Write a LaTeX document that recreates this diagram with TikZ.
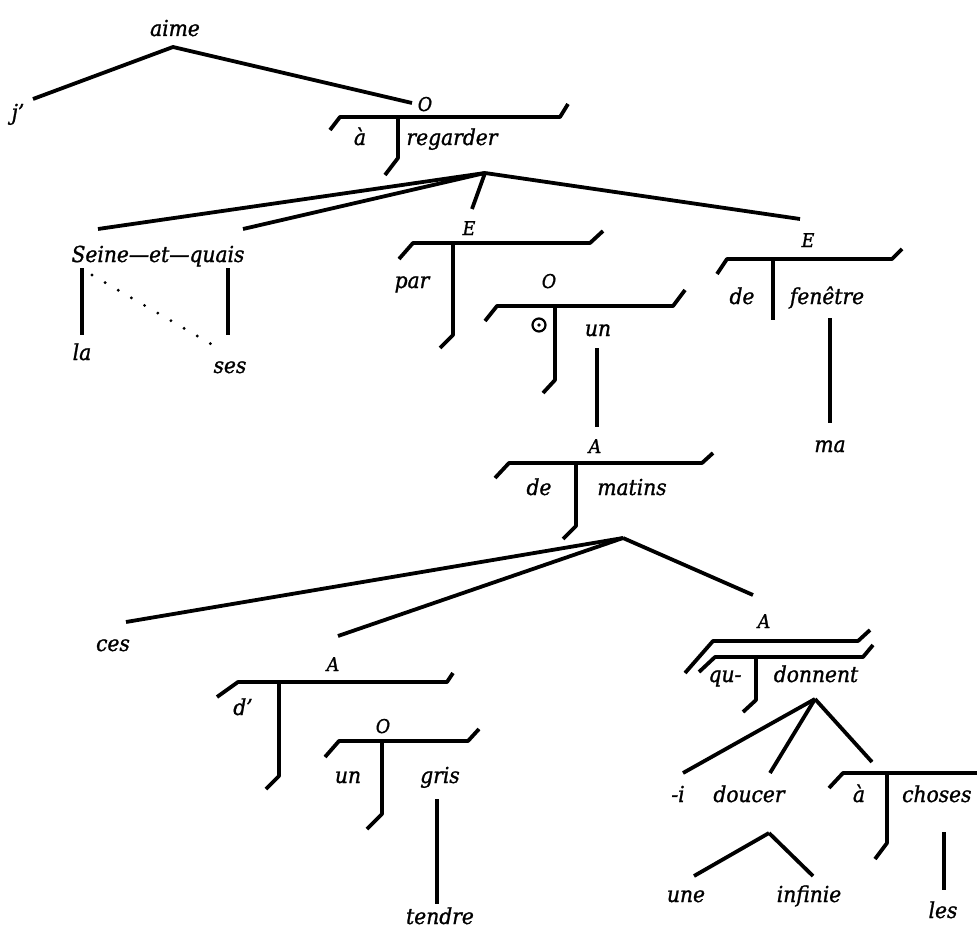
\documentclass[tikz,border=0pt]{standalone}
\usepackage{fontspec}
\setmainfont{DejaVu Serif}[FakeStretch=0.92, ItalicFeatures={FakeBold=1.2, FakeStretch=0.92}]
\tikzset{
  wd/.style={font=\fontsize{22}{26}\selectfont\itshape, inner sep=0pt, anchor=base},
  lab/.style={font=\fontsize{19}{22}\selectfont\itshape, inner sep=0pt, anchor=base},
  ln/.style={line width=3.8pt, line cap=butt, line join=round},
  brk/.style={line width=3.8pt, line cap=butt, line join=round},
  dots/.style={line width=3.2pt, line cap=round, dash pattern=on 0pt off 15.2pt},
  ringsym/.style={circle, draw, line width=2.2pt, minimum size=13pt, inner sep=0pt}
}
\begin{document}
\begin{tikzpicture}[x=1pt,y=-1pt]
\useasboundingbox (0,0) rectangle (977,931);
% ---------- text nodes ----------
\node[wd] (aime) at (175,36) {aime};
\node[wd] (j) at (18,120) {j'};
\node[lab] (O1) at (425,111) {O};
\node[wd] (a1) at (360,145) {à};
\node[wd] (regarder) at (452,145) {regarder};
\node[wd] (seine) at (158,262) {Seine—et—quais};
\node[wd] (la) at (82,360) {la};
\node[wd] (ses) at (230,373) {ses};
\node[lab] (E1) at (469,235) {E};
\node[wd] (par) at (412,288) {par};
\node[lab] (O2) at (549,288) {O};
\node[ringsym] (circ) at (539,325) {};
\fill (circ.center) circle (1.9pt);
\node[wd] (un1) at (598,336) {un};
\node[lab] (A1) at (595,453) {A};
\node[lab] (E2) at (808,247) {E};
\node[wd] (de1) at (742,304) {de};
\node[wd] (fenetre) at (827,304) {fenêtre};
\node[wd] (ma) at (830,452) {ma};
\node[wd] (de2) at (539,495) {de};
\node[wd] (matins) at (632,495) {matins};
\node[wd] (ces) at (113,651) {ces};
\node[lab] (A2) at (333,671) {A};
\node[wd] (d) at (243,715) {d'};
\node[lab] (O3) at (383,733) {O};
\node[wd] (un2) at (348,783) {un};
\node[wd] (gris) at (440,783) {gris};
\node[wd] (tendre) at (440,924) {tendre};
\node[lab] (A3) at (764,628) {A};
\node[wd] (qu) at (725,682) {qu-};
\node[wd] (donnent) at (816,682) {donnent};
\node[wd] (i) at (678,802) {-i};
\node[wd] (doucer) at (749,802) {doucer};
\node[wd] (a2) at (859,802) {à};
\node[wd, anchor=base west] (choses) at (902,802) {choses};
\node[wd] (une) at (686,902) {une};
\node[wd] (infinie) at (809,902) {infinie};
\node[wd] (les) at (943,918) {les};
% ---------- connector end points ----------
\coordinate (pAime) at (173,47);
\coordinate (pJ) at (33,99);
\coordinate (pO1) at (412,103);
\coordinate (pReg) at (485,173);
\coordinate (pSeine) at (98,229);
\coordinate (pQuais) at (243,229);
\coordinate (pE1) at (472,209);
\coordinate (pE2) at (800,219);
\coordinate (pLaT) at (82,268);
\coordinate (pLaB) at (82,335);
\coordinate (pQuT) at (228,268);
\coordinate (pQuB) at (228,335);
\coordinate (pDotA) at (92,275);
\coordinate (pDotB) at (218,348);
\coordinate (pUnT) at (597,348);
\coordinate (pUnB) at (597,427);
\coordinate (pFenT) at (830,318);
\coordinate (pFenB) at (830,423);
\coordinate (pMat) at (623,538);
\coordinate (pCes) at (126,622);
\coordinate (pA2) at (338,636);
\coordinate (pA3) at (753,595);
\coordinate (pGrisT) at (437,799);
\coordinate (pGrisB) at (437,904);
\coordinate (pDon) at (815,699);
\coordinate (pI) at (683,773);
\coordinate (pDou) at (770,773);
\coordinate (pCho) at (872,762);
\coordinate (pDouA) at (769,833);
\coordinate (pUne) at (694,876);
\coordinate (pInf) at (813,876);
\coordinate (pLesT) at (944,832);
\coordinate (pLesB) at (944,890);
% ---------- connectors ----------
\draw[ln] (pJ) -- (pAime) -- (pO1);
\draw[ln] (pReg) -- (pSeine);
\draw[ln] (pReg) -- (pQuais);
\draw[ln] (pReg) -- (pE1);
\draw[ln] (pReg) -- (pE2);
\draw[ln] (pLaT) -- (pLaB);
\draw[ln] (pQuT) -- (pQuB);
\draw[dots] (pDotA) -- (pDotB);
\draw[ln] (pUnT) -- (pUnB);
\draw[ln] (pFenT) -- (pFenB);
\draw[ln] (pMat) -- (pCes);
\draw[ln] (pMat) -- (pA2);
\draw[ln] (pMat) -- (pA3);
\draw[ln] (pGrisT) -- (pGrisB);
\draw[ln] (pDon) -- (pI);
\draw[ln] (pDon) -- (pDou);
\draw[ln] (pDon) -- (pCho);
\draw[ln] (pDouA) -- (pUne);
\draw[ln] (pDouA) -- (pInf);
\draw[ln] (pLesT) -- (pLesB);
% ---------- translation brackets ----------
% a regarder
\draw[brk] (330,130) -- (340,117) -- (560,117) -- (568,104);
\draw[brk] (398,117) -- (398,158) -- (385,175);
% par
\draw[brk] (399,259) -- (413,243) -- (590,243) -- (603,231);
\draw[brk] (453,243) -- (453,335) -- (440,348);
% (.) un
\draw[brk] (485,321) -- (497,306) -- (673,306) -- (685,290);
\draw[brk] (555,306) -- (555,380) -- (543,393);
% de fenetre
\draw[brk] (717,274) -- (727,259) -- (892,259) -- (902,249);
\draw[brk] (773,259) -- (773,320);
% de matins
\draw[brk] (495,478) -- (509,463) -- (702,463) -- (713,453);
\draw[brk] (576,463) -- (576,526) -- (563,539);
% d'
\draw[brk] (217,697) -- (238,682) -- (447,682) -- (453,673);
\draw[brk] (279,682) -- (279,776) -- (266,789);
% un gris
\draw[brk] (325,757) -- (339,741) -- (468,741) -- (479,729);
\draw[brk] (382,741) -- (382,814) -- (367,829);
% qu- donnent (double)
\draw[brk] (685,673) -- (713,641) -- (858,641) -- (870,630);
\draw[brk] (699,672) -- (715,657) -- (863,657) -- (873,645);
\draw[brk] (756,657) -- (756,700) -- (743,712);
% a choses
\draw[brk] (829,788) -- (843,773) -- (990,773);
\draw[brk] (887,773) -- (887,843) -- (875,859);
\end{tikzpicture}
\end{document}
